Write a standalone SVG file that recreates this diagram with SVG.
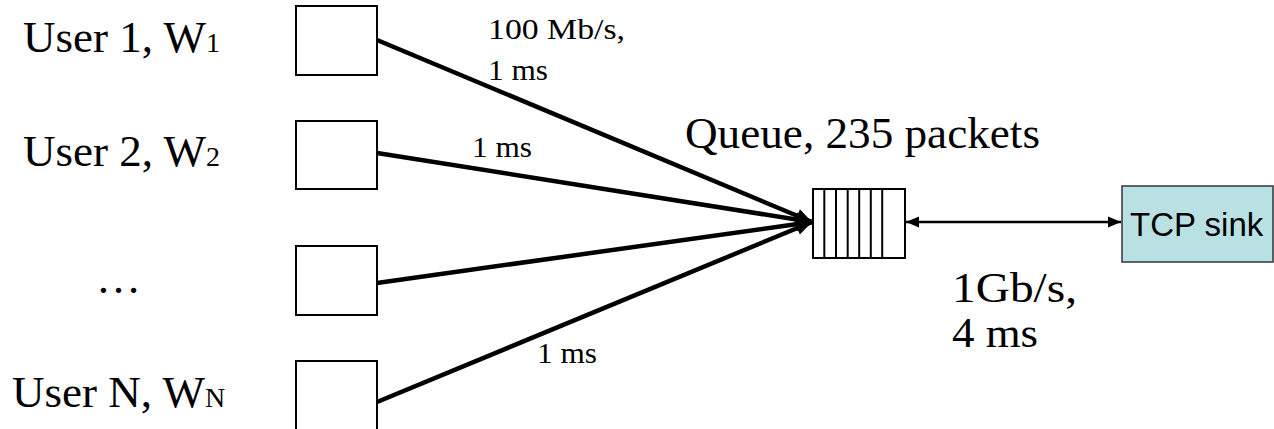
<svg xmlns="http://www.w3.org/2000/svg" width="1274" height="429" viewBox="0 0 1274 429">
<style>
.user{font-family:"Liberation Serif","Times New Roman",serif;font-size:45px;fill:#000}
.sub{font-size:28px}
.lbl{font-family:"Liberation Serif","Times New Roman",serif;font-size:30px;fill:#000}
.big{font-family:"Liberation Serif","Times New Roman",serif;font-size:42px;fill:#000}
.box{fill:#fff;stroke:#000;stroke-width:2}
.link{stroke:#000;stroke-width:4.5;fill:none;marker-end:url(#big)}
.cell{stroke:#000;stroke-width:2}
</style>
<defs>
<marker id="big" markerUnits="userSpaceOnUse" markerWidth="20" markerHeight="20" viewBox="0 0 20 20" refX="18" refY="10" orient="auto">
<path d="M2,3 L18,10 L2,17 Z" fill="#000"/>
</marker>
<marker id="sm" markerUnits="userSpaceOnUse" markerWidth="16" markerHeight="16" viewBox="0 0 16 16" refX="14" refY="8" orient="auto-start-reverse">
<path d="M1,2.5 L14,8 L1,13.5 Z" fill="#000"/>
</marker>
</defs>

<g id="labels-users">
<text class="user" x="23" y="52">User 1, W<tspan class="sub">1</tspan></text>
<text class="user" x="23" y="166">User 2, W<tspan class="sub">2</tspan></text>
<text class="user" x="96" y="293">…</text>
<text class="user" x="12" y="407">User N, W<tspan class="sub">N</tspan></text>
</g>

<g id="user1"><rect class="box" x="296" y="6" width="81" height="69"/></g>
<g id="user2"><rect class="box" x="296" y="121" width="81" height="68"/></g>
<g id="user3"><rect class="box" x="296" y="246" width="81" height="69"/></g>
<g id="userN"><rect class="box" x="296" y="361" width="81" height="72"/></g>

<g id="connectors">
<line class="link" x1="377" y1="40" x2="812" y2="222"/>
<line class="link" x1="377" y1="153" x2="812" y2="222"/>
<line class="link" x1="377" y1="283" x2="812" y2="222"/>
<line class="link" x1="377" y1="402" x2="812" y2="222"/>
<line x1="906" y1="222" x2="1121" y2="222" stroke="#000" stroke-width="2.5" marker-start="url(#sm)" marker-end="url(#sm)"/>
</g>

<g id="link-labels">
<text class="lbl" x="488" y="39" textLength="137" lengthAdjust="spacingAndGlyphs">100 Mb/s,</text>
<text class="lbl" x="488" y="80" textLength="60" lengthAdjust="spacingAndGlyphs">1 ms</text>
<text class="lbl" x="472" y="157" textLength="60" lengthAdjust="spacingAndGlyphs">1 ms</text>
<text class="lbl" x="537" y="363" textLength="60" lengthAdjust="spacingAndGlyphs">1 ms</text>
<text class="big" x="952" y="302" textLength="125" lengthAdjust="spacingAndGlyphs">1Gb/s,</text>
<text class="big" x="952" y="347" textLength="86" lengthAdjust="spacingAndGlyphs">4 ms</text>
</g>

<g id="queue">
<text class="user" x="685" y="148" textLength="355" lengthAdjust="spacingAndGlyphs">Queue, 235 packets</text>
<rect class="box" x="813" y="189" width="92" height="69"/>
<line class="cell" x1="824.3" y1="189" x2="824.3" y2="258"/>
<line class="cell" x1="836" y1="189" x2="836" y2="258"/>
<line class="cell" x1="847.7" y1="189" x2="847.7" y2="258"/>
<line class="cell" x1="859.2" y1="189" x2="859.2" y2="258"/>
<line class="cell" x1="870.8" y1="189" x2="870.8" y2="258"/>
<line class="cell" x1="882.2" y1="189" x2="882.2" y2="258"/>
</g>

<g id="tcp-sink">
<rect x="1122" y="186" width="151" height="76" fill="#b9e0e3" stroke="#333" stroke-width="1.5"/>
<text x="1130" y="236" font-family="'Liberation Sans',Arial,sans-serif" font-size="33" fill="#000">TCP sink</text>
</g>
</svg>
